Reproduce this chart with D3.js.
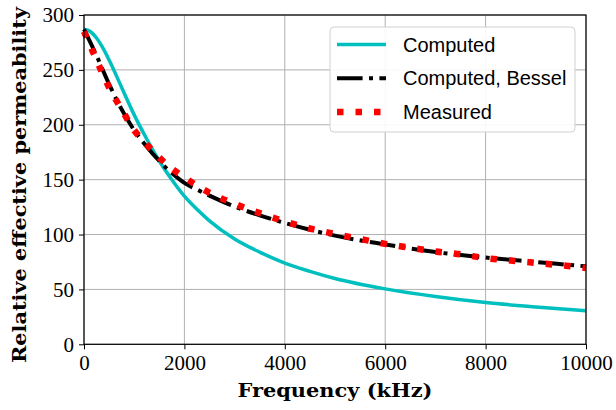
<!DOCTYPE html>
<html>
<head>
<meta charset="utf-8">
<script src="https://cdn.jsdelivr.net/npm/d3@7"></script>
<style>
  body { margin: 0; background: #fff; }
  svg { display: block; }
</style>
</head>
<body>
<script>
var width = 616;
var height = 410;
var margin = { left: 84, right: 30, top: 15, bottom: 66 };

// frequency samples (kHz) and permeability values
var freqComputed = [0, 125, 250, 375, 500, 750, 1000, 1250, 1500, 1750, 2000, 2250, 2500, 3000, 3500, 4000, 4500, 5000, 6000, 7000, 8000, 9000, 10000];
var computed = [287, 285, 279, 270, 259, 234, 209, 187, 167, 150, 135, 123, 112.5, 96, 84, 74, 66.5, 60, 50.5, 43.5, 38, 34, 30.5];

var freqBessel = [0, 250, 500, 750, 1000, 1250, 1500, 1750, 2000, 2250, 2500, 3000, 3500, 4000, 5000, 6000, 7000, 8000, 9000, 10000];
var bessel = [287, 263, 237, 214, 195, 180, 167, 156, 147, 141, 135.5, 125.5, 117.5, 110.5, 99, 91, 84, 79, 75, 71];

var freqMeasured = [0, 250, 500, 750, 1000, 1250, 1500, 1750, 2000, 2500, 3000, 3500, 4000, 4500, 5000, 5500, 6000, 6500, 7000, 7500, 8000, 8500, 9000, 9500, 10000];
var measured = [285, 259, 234, 214, 195, 182, 170, 160, 152, 138, 128, 119.5, 112, 105.5, 100.5, 96, 91.5, 88, 84.5, 82, 78.5, 76.3, 74.2, 72, 69.5];

var xTicks = [0, 2000, 4000, 6000, 8000, 10000];
var yTicks = [0, 50, 100, 150, 200, 250, 300];

var seriesNames = ["Computed", "Computed, Bessel", "Measured"];

var svg = d3.select("body").append("svg").attr("width", width).attr("height", height);

var x = d3.scaleLinear().domain([0, 10000]).range([margin.left, width - margin.right]);
var y = d3.scaleLinear().domain([0, 300]).range([344.3, margin.top]);

// grid
svg.append("g").selectAll("line").data(xTicks).enter().append("line")
    .attr("x1", function (d) { return x(d); }).attr("x2", function (d) { return x(d); })
    .attr("y1", y(0)).attr("y2", y(300))
    .attr("stroke", "#b0b0b0").attr("stroke-width", 1);
svg.append("g").selectAll("line").data(yTicks).enter().append("line")
    .attr("x1", x(0)).attr("x2", x(10000))
    .attr("y1", function (d) { return y(d); }).attr("y2", function (d) { return y(d); })
    .attr("stroke", "#b0b0b0").attr("stroke-width", 1);

// curves
var plot = svg.append("g");
function makeLine(xs) {
    return d3.line()
        .x(function (d, i) { return x(xs[i]); })
        .y(function (d) { return y(d); })
        .curve(d3.curveMonotoneX);
}
plot.append("path").datum(computed).attr("d", makeLine(freqComputed))
    .attr("fill", "none").attr("stroke", "#00bfbf").attr("stroke-width", 3.5);
plot.append("path").datum(bessel).attr("d", makeLine(freqBessel))
    .attr("fill", "none").attr("stroke", "#000").attr("stroke-width", 4)
    .attr("stroke-dasharray", "25.6,6.4,4,6.4");
plot.append("path").datum(measured).attr("d", makeLine(freqMeasured))
    .attr("fill", "none").attr("stroke", "#ff0000").attr("stroke-width", 6.5)
    .attr("stroke-dasharray", "6.5,12");

// axes
var xAxis = d3.axisBottom(x).tickValues(xTicks).tickSize(5).tickPadding(6).tickFormat(d3.format("d"));
var yAxis = d3.axisLeft(y).tickValues(yTicks).tickSize(5).tickPadding(5).tickFormat(d3.format("d"));

var gx = svg.append("g").attr("transform", "translate(0," + y(0) + ")").call(xAxis);
var gy = svg.append("g").attr("transform", "translate(" + x(0) + ",0)").call(yAxis);
[gx, gy].forEach(function (g) {
    g.select(".domain").remove();
    g.selectAll("line").attr("stroke", "#000").attr("stroke-width", 1);
    g.selectAll("text").attr("font-family", "'Liberation Serif', serif").attr("font-size", 21).attr("fill", "#000");
});
gx.selectAll("text").attr("dy", "0.71em");

// frame
svg.append("rect").attr("x", x(0)).attr("y", y(300))
    .attr("width", x(10000) - x(0)).attr("height", y(0) - y(300))
    .attr("fill", "none").attr("stroke", "#000").attr("stroke-width", 1.2);

// axis labels
svg.append("text").text("Frequency (kHz)")
    .attr("x", (x(0) + x(10000)) / 2).attr("y", 397)
    .attr("text-anchor", "middle")
    .attr("font-family", "'DejaVu Serif', serif").attr("font-weight", "bold").attr("font-size", 19)
    .attr("textLength", 195).attr("lengthAdjust", "spacingAndGlyphs");
svg.append("text").text("Relative effective permeability")
    .attr("transform", "translate(26," + 185 + ") rotate(-90)")
    .attr("text-anchor", "middle")
    .attr("font-family", "'DejaVu Serif', serif").attr("font-weight", "bold").attr("font-size", 19)
    .attr("textLength", 356).attr("lengthAdjust", "spacingAndGlyphs");

// legend
var legend = svg.append("g");
legend.append("rect").attr("x", 330).attr("y", 27).attr("width", 245).attr("height", 105)
    .attr("rx", 4).attr("fill", "#fff").attr("fill-opacity", 0.9)
    .attr("stroke", "#d0d0d0").attr("stroke-width", 1);
var legendStyles = [
    { stroke: "#00bfbf", w: 3.5, dash: null },
    { stroke: "#000", w: 4, dash: "25.6,6.4,4,6.4" },
    { stroke: "#ff0000", w: 6.5, dash: "6.5,12" }
];
var rows = legend.selectAll("g.row").data(seriesNames).enter().append("g")
    .attr("transform", function (d, i) { return "translate(0," + (44.5 + i * 33.7) + ")"; });
rows.append("line").attr("x1", 337).attr("x2", 386).attr("y1", 0).attr("y2", 0)
    .attr("stroke", function (d, i) { return legendStyles[i].stroke; })
    .attr("stroke-width", function (d, i) { return legendStyles[i].w; })
    .attr("stroke-dasharray", function (d, i) { return legendStyles[i].dash; });
rows.append("text").text(function (d) { return d; })
    .attr("x", 403).attr("y", 7)
    .attr("font-family", "'Liberation Sans', sans-serif").attr("font-size", 20).attr("fill", "#000");
</script>
</body>
</html>
